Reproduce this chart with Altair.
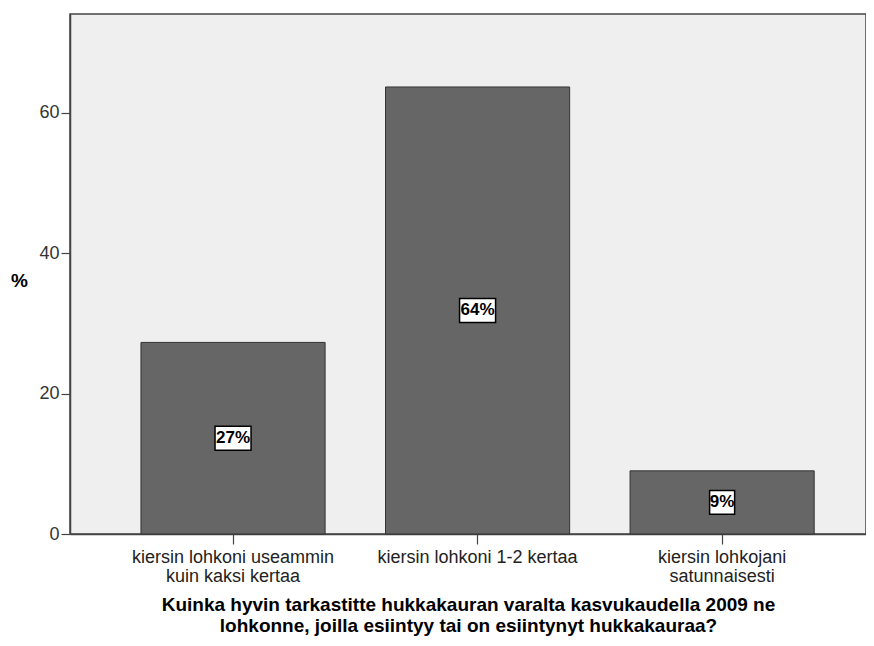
import altair as alt
import pandas as pd

categories = [
    "kiersin lohkoni useammin\nkuin kaksi kertaa",
    "kiersin lohkoni 1-2 kertaa",
    "kiersin lohkojani\nsatunnaisesti",
]
percents = [27.3, 63.7, 9.0]
labels = ["27%", "64%", "9%"]
y_ticks = [0, 20, 40, 60]

df = pd.DataFrame({"cat": categories, "pct": percents, "label": labels})

FONT = "Liberation Sans"

x_enc = alt.X(
    "cat:N",
    sort=categories,
    scale=alt.Scale(paddingInner=0.247, paddingOuter=0.251, align=0.578),
    axis=alt.Axis(
        title=["Kuinka hyvin tarkastitte hukkakauran varalta kasvukaudella 2009 ne",
               "lohkonne, joilla esiintyy tai on esiintynyt hukkakauraa?"],
        titleFont=FONT, titleFontSize=19, titleFontWeight="bold", titleColor="#000",
        titleLineHeight=21, titleBaseline="top", titleY=61,
        labelExpr="split(datum.label, '\\n')",
        labelFont=FONT, labelFontSize=18, labelColor="#222", labelLineHeight=19,
        labelAngle=0, labelPadding=4, labelLimit=400,
        tickSize=10, tickColor="#444", tickWidth=1.2,
        domainColor="#444", domainWidth=1.5,
    ),
)

y_scale = alt.Scale(domain=[0, 74.1], nice=False, zero=True)

bars = alt.Chart(df).mark_bar(color="#666666", stroke="#333333", strokeWidth=1).encode(
    x=x_enc,
    y=alt.Y(
        "pct:Q",
        scale=y_scale,
        axis=alt.Axis(
            values=y_ticks, grid=False,
            title="%", titleAngle=0, titleFont=FONT, titleFontSize=19,
            titleFontWeight="bold", titleColor="#000",
            titleAlign="center", titleBaseline="middle", titleX=-51, titleY=266,
            labelFont=FONT, labelFontSize=18, labelColor="#333", labelPadding=2,
            tickSize=9, tickColor="#444", tickWidth=1.2,
            domainColor="#444", domainWidth=1.5,
        ),
    ),
)

boxes = alt.Chart(df).transform_calculate(
    lo="datum.pct / 2 - 1.7",
    hi="datum.pct / 2 + 1.7",
    bw="length(datum.label) * 11 + 3",
).mark_bar(color="white", stroke="#000", strokeWidth=1.5).encode(
    x=alt.X("cat:N", sort=categories),
    y=alt.Y("lo:Q", scale=y_scale),
    y2="hi:Q",
    size=alt.Size("bw:Q", scale=None, legend=None),
)

texts = alt.Chart(df).transform_calculate(
    mid="datum.pct / 2"
).mark_text(font=FONT, fontSize=17, fontWeight="bold", color="#000",
            baseline="middle", align="center").encode(
    x=alt.X("cat:N", sort=categories),
    y=alt.Y("mid:Q", scale=y_scale),
    text="label:N",
)

chart = alt.layer(bars, boxes, texts).properties(
    width=796, height=520,
    autosize=alt.AutoSizeParams(type="none"),
    padding={"left": 62, "top": 6, "right": 0, "bottom": 104},
    background="white",
).configure_view(
    fill="#efefef", stroke="#444", strokeWidth=1.5
)

chart.save("out.html", embed_options={"renderer": "svg", "actions": False})
